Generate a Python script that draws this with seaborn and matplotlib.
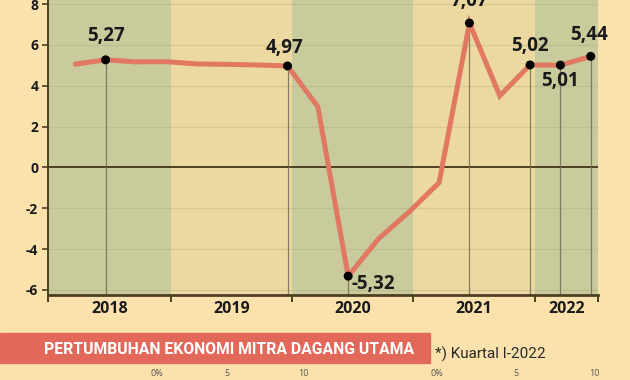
import matplotlib
matplotlib.use("Agg")
import matplotlib.pyplot as plt
from matplotlib.patches import Rectangle
import seaborn as sns
import pandas as pd

# ---------------- data ----------------
quarters = ["2018-Q1", "2018-Q2", "2018-Q3", "2018-Q4",
            "2019-Q1", "2019-Q2", "2019-Q3", "2019-Q4",
            "2020-Q1", "2020-Q2", "2020-Q3", "2020-Q4",
            "2021-Q1", "2021-Q2", "2021-Q3", "2021-Q4",
            "2022-Q1", "2022-Q2"]
growth = [5.06, 5.27, 5.17, 5.18,
          5.07, 5.05, 5.02, 4.97,
          2.97, -5.32, -3.49, -2.19,
          -0.74, 7.07, 3.51, 5.02,
          5.01, 5.44]
highlight_quarters = ["2018-Q2", "2019-Q4", "2020-Q2", "2021-Q2", "2021-Q4", "2022-Q1", "2022-Q2"]
highlight_labels = ["5,27", "4,97", "-5,32", "7,07", "5,02", "5,01", "5,44"]
years = ["2018", "2019", "2020", "2021", "2022"]
y_ticks = [-6, -4, -2, 0, 2, 4, 6, 8]
title_text = "PERTUMBUHAN EKONOMI MITRA DAGANG UTAMA"
note_text = "*) Kuartal I-2022"
axis_hint_labels = ["0%", "5", "10", "0%", "5", "10"]

# ---------------- styling ----------------
FIG_BG = "#fbe2ad"
GREEN = "#c9cb9d"
YELLOW = "#ecd8a1"
LINE = "#e07862"
DARK = "#4e3f22"
BANNER = "#e2685a"

sns.set_theme(style="white")
plt.rcParams["font.family"] = ["Open Sans", "DejaVu Sans"]

df = pd.DataFrame({"quarter": quarters, "growth": growth})
df["pos"] = range(len(df))
df["year"] = df["quarter"].str[:4]

fig = plt.figure(figsize=(6.3, 3.8), dpi=100, facecolor=FIG_BG)
ax = fig.add_axes([48 / 630, 1 - 295 / 380, 550 / 630, 295 / 380])

x_left, x_right = -0.9, 17.24
ax.set_xlim(x_left, x_right)
ax.set_ylim(-6.245, 8.2)

# year bands
bounds = [x_left]
for y in years[:-1]:
    bounds.append(df.loc[df["year"] == y, "pos"].max() + 0.15)
bounds.append(x_right)
for i in range(len(years)):
    ax.axvspan(bounds[i], bounds[i + 1], color=GREEN if i % 2 == 0 else YELLOW, lw=0, zorder=0)

# grid lines
for t in y_ticks:
    if t != 0:
        ax.axhline(t, color="#8a7f55", alpha=0.18, lw=0.9, zorder=1)
ax.axhline(0, color=DARK, lw=1.4, zorder=2)

# vertical drop lines for highlighted points
hl = df[df["quarter"].isin(highlight_quarters)].copy()
for _, r in hl.iterrows():
    ax.plot([r["pos"], r["pos"]], [-6.245, r["growth"]], color="#6e6650", lw=0.9, alpha=0.8, zorder=2)

sns.lineplot(data=df, x="pos", y="growth", color=LINE, lw=3.6, ax=ax, zorder=3,
             solid_joinstyle="miter")
sns.scatterplot(data=hl, x="pos", y="growth", color="black", s=42, ax=ax, zorder=4,
                edgecolor="none")

# data labels
offsets = {"5,27": (0, 24, "center"), "4,97": (-3, 18, "center"), "-5,32": (3, -8, "left"),
           "7,07": (0, 22, "center"), "5,02": (0, 19, "center"), "5,01": (0, -16, "center"),
           "5,44": (-2, 21, "center")}
for q, lab in zip(highlight_quarters, highlight_labels):
    r = df[df["quarter"] == q].iloc[0]
    dx, dy, ha = offsets[lab]
    ax.annotate(lab, (r["pos"], r["growth"]), xytext=(dx, dy), textcoords="offset pixels",
                ha=ha, va="center", fontsize=13.5, fontweight="bold", color="#1a1a1a",
                zorder=5, annotation_clip=False)

# axes styling
for s in ["top", "right"]:
    ax.spines[s].set_visible(False)
ax.spines["left"].set_color(DARK)
ax.spines["left"].set_linewidth(1.4)
ax.spines["bottom"].set_color(DARK)
ax.spines["bottom"].set_linewidth(2)

ax.set_yticks(y_ticks)
ax.set_yticklabels([str(t) for t in y_ticks])
ax.tick_params(axis="y", length=4.5, width=1.2, color=DARK, pad=2.5, labelsize=10,
               labelcolor="#1a1a1a", left=True)
for lbl in ax.get_yticklabels():
    lbl.set_fontweight("bold")

ax.set_xticks(bounds)
ax.set_xticklabels([""] * len(bounds))
ax.tick_params(axis="x", which="major", length=5, width=1.4, color=DARK, bottom=True)
centers = [(bounds[i] + bounds[i + 1]) / 2 for i in range(len(years))]
ax.set_xticks(centers, minor=True)
ax.set_xticklabels(years, minor=True)
ax.tick_params(axis="x", which="minor", length=0, pad=4, labelsize=11.5, labelcolor="#1a1a1a")
for lbl in ax.get_xticklabels(minor=True):
    lbl.set_fontweight("bold")
ax.set_xlabel("")
ax.set_ylabel("")
ax.grid(False)

# banner
fig.patches.append(Rectangle((0, 1 - 363 / 380), 430 / 630, 30 / 380, transform=fig.transFigure,
                             color=BANNER, zorder=0))
fig.text(229 / 630, 1 - 349 / 380, title_text, ha="center", va="center", color="white",
         fontsize=11.3, fontweight="bold", family=["Roboto", "DejaVu Sans"])
fig.text(435 / 630, 1 - 354 / 380, note_text, ha="left", va="center", color="#2a2a2a",
         fontsize=11, family=["Roboto", "DejaVu Sans"])

hint_x = [157, 227, 303, 437, 516, 594]
for xx, t in zip(hint_x, axis_hint_labels):
    fig.text(xx / 630, 1 - 369 / 380, t, ha="center", va="top", color="#555555", fontsize=6.5)

fig.savefig("out.png", dpi=100, facecolor=FIG_BG)
